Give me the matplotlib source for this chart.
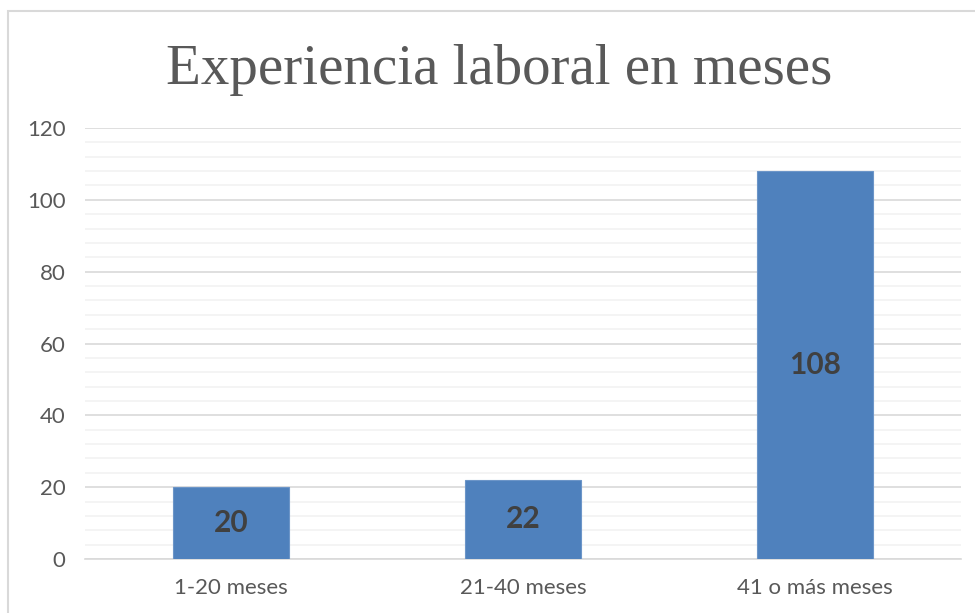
import matplotlib.pyplot as plt
from matplotlib.patches import Rectangle
from matplotlib.ticker import MultipleLocator

# Datos
categorias = ["1-20 meses", "21-40 meses", "41 o más meses"]
valores = [20, 22, 108]
titulo = "Experiencia laboral en meses"

fig = plt.figure(figsize=(9.75, 6.13), dpi=100)
ax = fig.add_axes([85/975, 54/613, (961-85)/975, (559-128)/613])

# Marco del gráfico (borde gris claro)
fig.patches.append(Rectangle((8/975, -0.1), 1.2, (613-11)/613 + 0.1,
                             transform=fig.transFigure, fill=False,
                             edgecolor="#D9D9D9", linewidth=1.5))

x = range(len(categorias))
barras = ax.bar(x, valores, width=0.4, color="#4F81BD", edgecolor="#6C95C8",
                linewidth=0.8, zorder=3)

# Etiquetas de datos centradas
for b, v in zip(barras, valores):
    ax.text(b.get_x() + b.get_width()/2, v/2, str(v), ha="center", va="center",
            fontsize=21.5, fontweight="bold", color="#404040", family="Lato", zorder=4)

ax.set_xlim(-0.5, len(categorias) - 0.5)
ax.set_ylim(0, 120)
ax.yaxis.set_major_locator(MultipleLocator(20))
ax.yaxis.set_minor_locator(MultipleLocator(4))
ax.grid(axis="y", which="major", color="#D9D9D9", linewidth=1.2, zorder=0)
ax.grid(axis="y", which="minor", color="#F2F2F2", linewidth=1.2, zorder=0)

ax.set_xticks(list(x))
ax.set_xticklabels(categorias)
ax.tick_params(axis="both", which="both", length=0, labelsize=16,
               labelcolor="#595959")
ax.tick_params(axis="y", pad=14)
ax.tick_params(axis="x", pad=14)
for lab in ax.get_xticklabels() + ax.get_yticklabels():
    lab.set_family("Lato")

for s in ["top", "right", "left"]:
    ax.spines[s].set_visible(False)
ax.spines["bottom"].set_color("#D9D9D9")
ax.spines["bottom"].set_linewidth(1.2)

fig.text(499/975, 1 - 70/613, titulo, ha="center", va="center",
         fontsize=41, color="#595959", family="Liberation Serif")

fig.savefig("out.png", dpi=100)
